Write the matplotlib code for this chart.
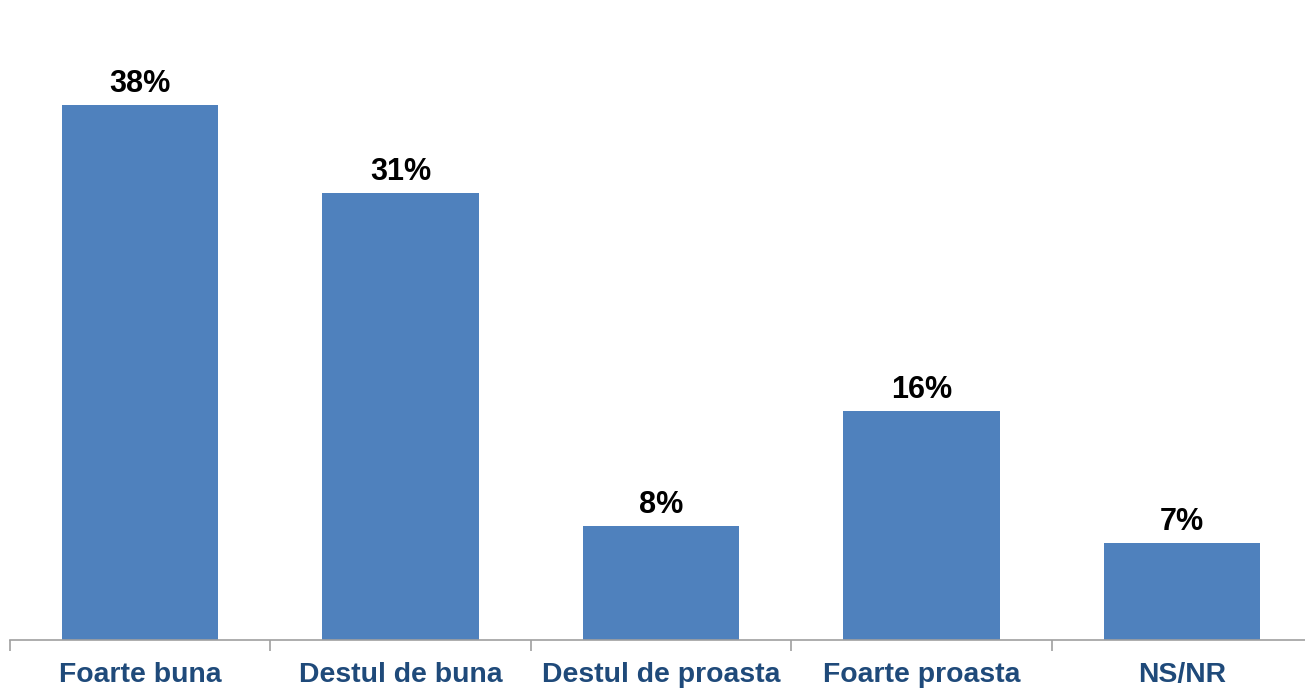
import matplotlib.pyplot as plt

# data
categories = ["Foarte buna", "Destul de buna", "Destul de proasta", "Foarte proasta", "NS/NR"]
values = [37.6, 31.4, 8.0, 16.1, 6.8]

BAR_COLOR = "#4F81BD"
LABEL_COLOR = "#1F4A7A"
AXIS_COLOR = "#A0A0A0"

plt.rcParams["font.family"] = ["Liberation Sans", "DejaVu Sans"]

fig = plt.figure(figsize=(13.05, 6.9), dpi=100)
W, H = 1305, 690
# axes placed in pixel terms: x from 10 to 1312, baseline at y=639.5
ax = fig.add_axes([10 / W, (H - 639.5) / H, 1302 / W, 639.5 / H])

x = list(range(len(categories)))
bars = ax.bar(x, values, width=0.6, color=BAR_COLOR, zorder=2)

for xi, v in zip(x, values):
    ax.annotate(f"{v:.0f}%", (xi, v), xytext=(0, 9.4), textcoords="offset points",
                ha="center", va="baseline", fontsize=22, fontweight="bold", color="black")

ax.set_xlim(-0.5, len(categories) - 0.5)
ax.set_ylim(0, 45)

# spines
for s in ["top", "right", "left"]:
    ax.spines[s].set_visible(False)
ax.spines["bottom"].set_color(AXIS_COLOR)
ax.spines["bottom"].set_linewidth(1.2)

ax.set_yticks([])
ax.set_xticks(x)
ax.set_xticklabels(categories, fontsize=20.4, fontweight="bold", color=LABEL_COLOR)
ax.tick_params(axis="x", which="major", length=0, pad=16)
ax.set_xticks([i - 0.5 for i in range(len(categories) + 1)], minor=True)
ax.tick_params(axis="x", which="minor", length=8, width=1.2, color=AXIS_COLOR)

fig.savefig("out.png", dpi=100)
